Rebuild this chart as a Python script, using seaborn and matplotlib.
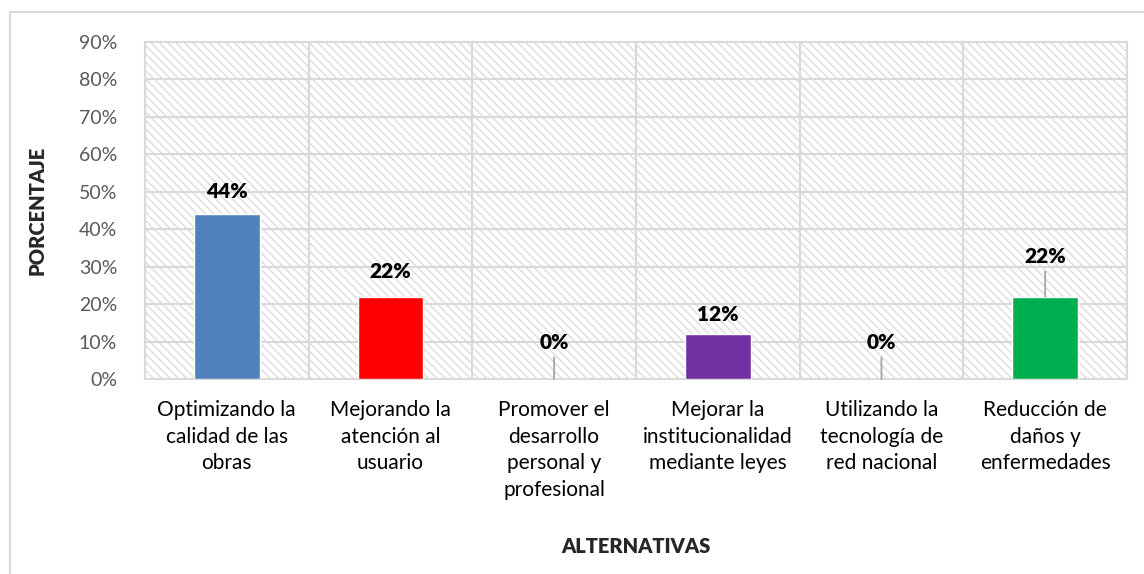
import matplotlib
matplotlib.use("Agg")
import matplotlib.pyplot as plt
from matplotlib.patches import Rectangle
from matplotlib.ticker import PercentFormatter, MultipleLocator
import pandas as pd
import seaborn as sns

# Data
categories = [
    "Optimizando la\ncalidad de las\nobras",
    "Mejorando la\natención al\nusuario",
    "Promover el\ndesarrollo\npersonal y\nprofesional",
    "Mejorar la\ninstitucionalidad\nmediante leyes",
    "Utilizando la\ntecnología de\nred nacional",
    "Reducción de\ndaños y\nenfermedades",
]
values = [44, 22, 0, 12, 0, 22]
bar_colors = ["#4F81BD", "#FF0000", "#A5A5A5", "#7030A0", "#A5A5A5", "#00B050"]
# label baseline offset above the bar top (points) and whether a leader line is drawn
label_offsets = [12, 13.5, 21.5, 9.5, 21.5, 24]
leader = [False, False, True, False, True, True]

df = pd.DataFrame({"cat": categories, "val": values})

sns.set_theme(style="white")
plt.rcParams["font.family"] = ["Lato", "DejaVu Sans"]

fig = plt.figure(figsize=(11.44, 5.74), dpi=100)
ax = fig.add_axes([0.1267, 0.3397, 0.8584, 0.5871])

# chart border
fig.patches.append(Rectangle((10 / 1144, -0.1), 1.2, (574 - 12) / 574 + 0.1,
                             transform=fig.transFigure, fill=False,
                             edgecolor="#d9d9d9", linewidth=1.5, zorder=0))

# hatched plot area
ax.add_patch(Rectangle((0, 0), 1, 1, transform=ax.transAxes, facecolor="white",
                       edgecolor="#dcdcdc", hatch="\\\\\\\\", linewidth=0, zorder=0))

sns.barplot(data=df, x="cat", y="val", hue="cat", palette=bar_colors, legend=False,
            width=0.4, saturation=1, ax=ax, zorder=3)

ax.set_ylim(0, 90)
ax.set_xlim(-0.5, len(categories) - 0.5)
ax.yaxis.set_major_locator(MultipleLocator(10))
ax.yaxis.set_major_formatter(PercentFormatter(decimals=0))

# gridlines
for y in range(10, 90, 10):
    ax.axhline(y, color="#d9d9d9", linewidth=1.5, zorder=1)
for x in range(len(categories) - 1):
    ax.axvline(x + 0.5, color="#d9d9d9", linewidth=1.5, zorder=1)

for s in ax.spines.values():
    s.set_visible(True)
    s.set_color("#d9d9d9")
    s.set_linewidth(1.5)

# data labels
for i, (v, off, ld) in enumerate(zip(values, label_offsets, leader)):
    ax.annotate(f"{v}%", xy=(i, v), xytext=(0, off), textcoords="offset points",
                ha="center", va="baseline", fontsize=15, fontweight="heavy",
                color="black", zorder=5)
    if ld:
        ax.annotate("", xy=(i, v), xytext=(0, off - 6), textcoords="offset points",
                    arrowprops=dict(arrowstyle="-", color="#a6a6a6", lw=1.3,
                                    shrinkA=0, shrinkB=0), zorder=4)

ax.tick_params(axis="y", labelsize=14, labelcolor="#595959", length=0, pad=20)
ax.tick_params(axis="x", labelsize=15, labelcolor="black", length=0, pad=15)
for t in ax.get_xticklabels():
    t.set_linespacing(1.42)
    t.set_va("top")

ax.set_xlabel("ALTERNATIVAS", fontsize=14.5, fontweight="heavy")
ax.xaxis.set_label_coords(0.5, -0.47)
ax.set_ylabel("PORCENTAJE", fontsize=14.5, fontweight="heavy")
ax.yaxis.set_label_coords(-0.1, 0.5)

fig.savefig("out.png", dpi=100)
